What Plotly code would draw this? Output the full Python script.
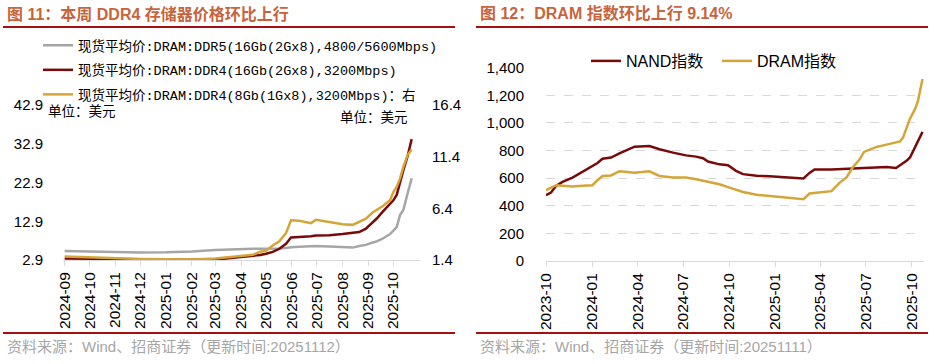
import plotly.graph_objects as go

# ---------------- data: left chart (图 11) ----------------
left_dates = ["2024-09-01", "2024-10-01", "2024-11-01", "2024-12-01", "2025-01-01", "2025-02-01",
              "2025-03-01", "2025-04-01", "2025-04-15", "2025-04-24", "2025-05-01", "2025-05-09",
              "2025-05-17", "2025-05-25", "2025-05-31", "2025-06-10", "2025-06-24", "2025-06-30",
              "2025-07-16", "2025-08-01", "2025-08-13", "2025-08-21", "2025-08-29", "2025-09-06",
              "2025-09-11", "2025-09-18", "2025-09-27", "2025-10-01", "2025-10-05", "2025-10-09",
              "2025-10-13", "2025-10-18", "2025-10-23"]
ddr5_16gb = [5.2, 5.1, 4.9, 4.85, 4.9, 5.1, 5.5, 5.8, 5.8, 5.8, 5.8, 5.8, 5.9, 6.0, 6.2, 6.3, 6.4,
             6.5, 6.4, 6.3, 6.1, 6.5, 6.8, 7.4, 7.7, 8.4, 9.6, 10.5, 11.4, 14.5, 15.8, 20.0, 24.0]
ddr4_16gb = [3.3, 3.2, 3.1, 3.05, 3.0, 2.95, 3.0, 3.6, 3.9, 4.2, 4.5, 5.0, 5.8, 7.1, 8.7, 8.8, 9.0,
             9.2, 9.3, 9.6, 9.8, 10.1, 11.0, 12.5, 13.6, 15.3, 17.5, 18.3, 19.7, 23.1, 26.1, 29.6, 34.1]
ddr4_8gb = [1.74, 1.65, 1.58, 1.5, 1.47, 1.45, 1.55, 1.8, 1.9, 2.2, 2.3, 2.8, 3.2, 4.0, 5.24, 5.2,
            4.97, 5.3, 5.1, 4.85, 4.8, 5.07, 5.4, 6.0, 6.27, 6.6, 7.18, 7.98, 8.47, 9.3, 10.4, 11.55, 12.1]
left_names = ["现货平均价:DRAM:DDR5(16Gb(2Gx8),4800/5600Mbps)",
              "现货平均价:DRAM:DDR4(16Gb(2Gx8),3200Mbps)",
              "现货平均价:DRAM:DDR4(8Gb(1Gx8),3200Mbps)：右"]
left_ticks = ["2024-09-01", "2024-10-01", "2024-11-01", "2024-12-01", "2025-01-01", "2025-02-01",
              "2025-03-01", "2025-04-01", "2025-05-01", "2025-06-01", "2025-07-01", "2025-08-01",
              "2025-09-01", "2025-10-01"]
left_tick_text = ["2024-09", "2024-10", "2024-11", "2024-12", "2025-01", "2025-02", "2025-03",
                  "2025-04", "2025-05", "2025-06", "2025-07", "2025-08", "2025-09", "2025-10"]
left_y_ticks = [2.9, 12.9, 22.9, 32.9, 42.9]
right_y_ticks_left_chart = [1.4, 6.4, 11.4, 16.4]

# ---------------- data: right chart (图 12) ----------------
right_dates = ["2023-10-01", "2023-10-11", "2023-10-21", "2023-11-03", "2023-11-23", "2023-12-13",
               "2024-01-02", "2024-01-12", "2024-01-22", "2024-02-08", "2024-02-25", "2024-03-12",
               "2024-03-26", "2024-04-25", "2024-05-15", "2024-06-11", "2024-07-07", "2024-07-27",
               "2024-08-10", "2024-08-20", "2024-09-12", "2024-09-29", "2024-10-15", "2024-10-29",
               "2024-11-25", "2024-12-21", "2025-01-17", "2025-02-13", "2025-02-27", "2025-03-11",
               "2025-03-21", "2025-04-24", "2025-05-10", "2025-05-24", "2025-06-06", "2025-06-19",
               "2025-06-28", "2025-07-10", "2025-07-23", "2025-08-12", "2025-08-31", "2025-09-08",
               "2025-09-14", "2025-09-21", "2025-09-28", "2025-10-08", "2025-10-14", "2025-10-23"]
nand_index = [476, 496, 544, 573, 604, 645, 684, 710, 741, 749, 780, 804, 828, 832, 809, 785, 765,
              756, 744, 720, 700, 693, 653, 629, 617, 614, 607, 602, 598, 638, 663, 663, 667, 670,
              672, 673, 674, 676, 680, 681, 674, 694, 705, 725, 750, 822, 870, 935]
dram_index = [513, 532, 549, 545, 539, 545, 549, 585, 616, 620, 650, 645, 640, 650, 616, 604, 604,
              592, 580, 573, 556, 535, 515, 500, 480, 470, 461, 453, 448, 489, 494, 506, 566, 605,
              681, 735, 790, 807, 826, 843, 858, 866, 894, 960, 1031, 1100, 1160, 1318]
right_names = ["NAND指数", "DRAM指数"]
right_ticks = ["2023-10-01", "2024-01-01", "2024-04-01", "2024-07-01", "2024-10-01", "2025-01-01",
               "2025-04-01", "2025-07-01", "2025-10-01"]
right_tick_text = ["2023-10", "2024-01", "2024-04", "2024-07", "2024-10", "2025-01", "2025-04",
                   "2025-07", "2025-10"]
index_y_ticks = [0, 200, 400, 600, 800, 1000, 1200, 1400]
index_y_text = ["0", "200", "400", "600", "800", "1,000", "1,200", "1,400"]

titles = ["图 11：本周 DDR4 存储器价格环比上行", "图 12：DRAM 指数环比上行 9.14%"]
sources = ["资料来源：Wind、招商证券（更新时间:20251112）", "资料来源：Wind、招商证券（更新时间:20251111）"]

# ---------------- styling ----------------
W, H = 935, 364
GREY, DRED, GOLD = "#A6A6A6", "#780A0A", "#D4A537"
RULE = "#A50F0F"
TITLE_C = "#C8643C"
SANS = "Liberation Sans, Arial, Noto Sans CJK SC"
MONO = "Liberation Mono, Noto Sans CJK SC"
GRID = "#D9D9D9"


def px(x):
    return x / W


def py(y):
    return 1 - y / H


fig = go.Figure()

fig.add_trace(go.Scatter(x=left_dates, y=ddr5_16gb, name=left_names[0], mode="lines",
                         line=dict(color=GREY, width=2.5), xaxis="x", yaxis="y",
                         legend="legend", legendgroup="a"))
fig.add_trace(go.Scatter(x=left_dates, y=ddr4_16gb, name=left_names[1], mode="lines",
                         line=dict(color=DRED, width=2.5), xaxis="x", yaxis="y",
                         legend="legend", legendgroup="b"))
fig.add_trace(go.Scatter(x=left_dates, y=ddr4_8gb, name=left_names[2], mode="lines",
                         line=dict(color=GOLD, width=2.5), xaxis="x", yaxis="y2",
                         legend="legend", legendgroup="c"))

fig.add_trace(go.Scatter(x=right_dates, y=nand_index, name=right_names[0], mode="lines",
                         line=dict(color=DRED, width=2.5), xaxis="x2", yaxis="y4",
                         legend="legend2"))
fig.add_trace(go.Scatter(x=right_dates, y=dram_index, name=right_names[1], mode="lines",
                         line=dict(color=GOLD, width=2.5), xaxis="x2", yaxis="y4",
                         legend="legend2"))

tickfont = dict(family=SANS, size=15, color="#000000")
xtickfont = dict(family=SANS, size=15.5, color="#000000")

fig.update_layout(
    width=W, height=H, autosize=False,
    margin=dict(l=0, r=0, t=0, b=0, pad=0, autoexpand=False),
    paper_bgcolor="white", plot_bgcolor="white",
    hovermode=False,
    xaxis=dict(domain=[px(63), px(420)], anchor="y", type="date",
               range=["2024-08-30", "2025-11-02"], automargin=False,
               tickmode="array", tickvals=left_ticks, ticktext=left_tick_text,
               tickangle=-90, tickfont=xtickfont, ticks="outside", ticklen=5,
               tickcolor=GRID, showline=True, linecolor=GRID, linewidth=1,
               showgrid=False, zeroline=False),
    yaxis=dict(domain=[py(260), py(105)], anchor="x", range=[2.9, 42.9], automargin=False,
               tickmode="array", tickvals=left_y_ticks,
               ticktext=[f"{v:.1f}" for v in left_y_ticks],
               tickfont=tickfont, ticks="outside", ticklen=16, tickcolor="rgba(0,0,0,0)",
               showgrid=False, zeroline=False, showline=False),
    yaxis2=dict(overlaying="y", anchor="x", side="right", range=[1.4, 16.4], automargin=False,
                tickmode="array", tickvals=right_y_ticks_left_chart,
                ticktext=[f"{v:.1f}" for v in right_y_ticks_left_chart],
                tickfont=tickfont, ticks="outside", ticklen=8, tickcolor="rgba(0,0,0,0)",
                showgrid=False, zeroline=False, showline=False),
    yaxis3=dict(overlaying="y", anchor="x", range=[2.9, 42.9], automargin=False,
                tickmode="array", tickvals=left_y_ticks[1:4], showticklabels=False,
                showgrid=True, gridcolor=GRID, griddash="dash", gridwidth=1,
                zeroline=False, showline=False),
    xaxis2=dict(domain=[px(546), px(924)], anchor="y4", type="date",
                range=["2023-10-01", "2025-10-26"], automargin=False,
                tickmode="array", tickvals=right_ticks, ticktext=right_tick_text,
                tickangle=-90, tickfont=xtickfont, ticks="outside", ticklen=5,
                tickcolor=GRID, showline=True, linecolor=GRID, linewidth=1,
                showgrid=False, zeroline=False),
    yaxis4=dict(domain=[py(261), py(67.7)], anchor="x2", range=[0, 1400],
                tickmode="array", tickvals=index_y_ticks, ticktext=index_y_text,
                tickfont=tickfont, ticks="outside", ticklen=18, automargin=False,
                tickcolor="rgba(0,0,0,0)", showgrid=True, gridcolor=GRID, griddash="dash",
                zeroline=False, showline=False),
    legend=dict(x=px(38), y=py(30), xanchor="left", yanchor="top",
                bgcolor="rgba(0,0,0,0)", tracegroupgap=4,
                font=dict(family=MONO, size=13.5, color="#000000")),
    legend2=dict(orientation="h", x=px(586), y=py(61), xanchor="left", yanchor="middle",
                 bgcolor="rgba(0,0,0,0)", entrywidth=86, entrywidthmode="pixels",
                 font=dict(family=SANS, size=16, color="#000000")),
    showlegend=True,
)

# rules
for x0, x1 in [(3, 455), (476, 928)]:
    for yy in (27, 333):
        fig.add_shape(type="line", xref="paper", yref="paper", x0=px(x0), x1=px(x1),
                      y0=py(yy), y1=py(yy), line=dict(color=RULE, width=2))

# titles and sources
for i, x0 in enumerate([5, 478]):
    fig.add_annotation(text=f"<b>{titles[i]}</b>", xref="paper", yref="paper",
                       x=px(x0), y=py(14), xanchor="left", yanchor="middle", showarrow=False,
                       font=dict(family=SANS, size=16, color=TITLE_C))
    fig.add_annotation(text=sources[i], xref="paper", yref="paper",
                       x=px(x0), y=py(346), xanchor="left", yanchor="middle", showarrow=False,
                       font=dict(family=SANS, size=15, color="#A6A6A6"))

# unit labels
fig.add_annotation(text="单位：美元", xref="paper", yref="paper", x=px(46), y=py(112),
                   xanchor="left", yanchor="middle", showarrow=False,
                   font=dict(family=MONO, size=13.5, color="#000000"))
fig.add_annotation(text="单位：美元", xref="paper", yref="paper", x=px(338), y=py(118),
                   xanchor="left", yanchor="middle", showarrow=False,
                   font=dict(family=MONO, size=13.5, color="#000000"))

fig.write_html("out.html", config={"displayModeBar": False, "staticPlot": True},
               post_script="document.body.style.margin='0px';document.body.style.overflow='hidden';")
